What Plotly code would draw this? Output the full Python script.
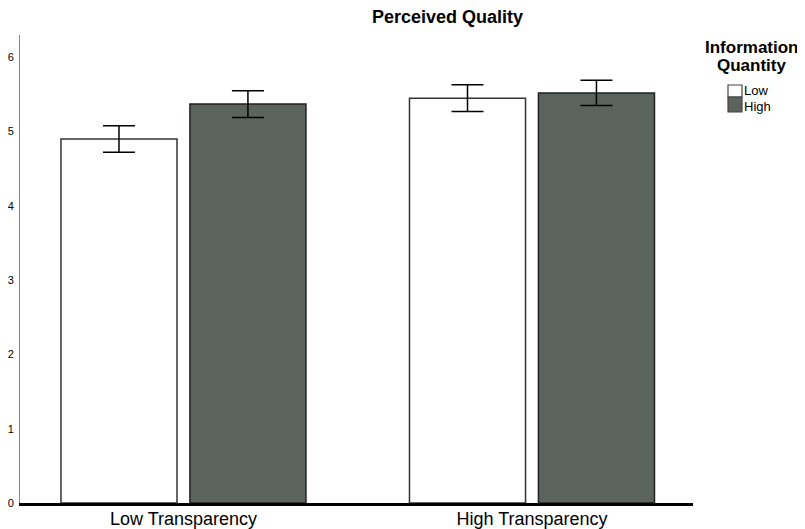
import plotly.graph_objects as go

categories = ["Low Transparency", "High Transparency"]
series_names = ["Low", "High"]
low_values = [4.90, 5.45]
high_values = [5.37, 5.52]
low_err = [0.18, 0.18]
high_err = [0.18, 0.17]
y_ticks = [0, 1, 2, 3, 4, 5, 6]
bar_colors = ["white", "#5a635e"]

# the page body adds an 8px offset; the figure is sized so that it fills the window
OFF = 8
W, H = 805 - OFF, 529 - OFF
ML, MR, MT, MB = 20 - OFF, 112, 35 - OFF, 26
PW, PH = W - ML - MR, H - MT - MB


def px_x(x):
    return (x - OFF - ML) / PW


def px_y(y):
    return (H - MB - (y - OFF)) / PH


fig = go.Figure()
fig.add_trace(go.Bar(
    name=series_names[0], x=categories, y=low_values,
    marker=dict(color=bar_colors[0], line=dict(color="#333333", width=1.5)),
    error_y=dict(type="data", array=low_err, color="black", thickness=1.5, width=16),
))
fig.add_trace(go.Bar(
    name=series_names[1], x=categories, y=high_values,
    marker=dict(color=bar_colors[1], line=dict(color="#222222", width=1.5)),
    error_y=dict(type="data", array=high_err, color="black", thickness=1.5, width=16),
))

annotations = [
    dict(text="<b>Perceived Quality</b>", x=px_x(447), y=px_y(17), xref="paper", yref="paper",
         xanchor="center", yanchor="middle", showarrow=False, font=dict(size=18)),
    dict(text="<b>Information</b>", x=px_x(752), y=px_y(47), xref="paper", yref="paper",
         xanchor="center", yanchor="middle", showarrow=False, font=dict(size=17), borderpad=0),
    dict(text="<b>Quantity</b>", x=px_x(752), y=px_y(66), xref="paper", yref="paper",
         xanchor="center", yanchor="middle", showarrow=False, font=dict(size=17), borderpad=0),
]
shapes = []
legend_rows = [(85, 97), (97, 112)]
label_y = [90, 106]
for name, color, (y0, y1), ly in zip(series_names, bar_colors, legend_rows, label_y):
    shapes.append(dict(type="rect", xref="paper", yref="paper",
                       x0=px_x(728), x1=px_x(742), y0=px_y(y1), y1=px_y(y0),
                       fillcolor=color, line=dict(color="#444444", width=1.2)))
    annotations.append(dict(text=name, x=px_x(743), y=px_y(ly), xref="paper", yref="paper",
                            xanchor="left", yanchor="middle", showarrow=False, font=dict(size=13),
                            borderpad=0))

fig.update_layout(
    width=W, height=H,
    barmode="group", bargap=0.26, bargroupgap=0.1,
    paper_bgcolor="white", plot_bgcolor="white",
    margin=dict(l=ML, r=MR, t=MT, b=MB, autoexpand=False),
    font=dict(family="Liberation Sans, Arial, sans-serif", color="black"),
    showlegend=False,
    annotations=annotations,
    shapes=shapes,
)

fig.update_xaxes(
    range=[-0.469, 1.462], showline=True, linecolor="black", linewidth=3,
    ticks="", tickfont=dict(size=18), showgrid=False, zeroline=False, automargin=False,
    ticklabelstandoff=-3,
)
fig.update_yaxes(
    range=[0, 6.3], tickvals=y_ticks, showline=True, linecolor="#888888", linewidth=1,
    ticks="", tickfont=dict(size=11), showgrid=False, zeroline=False, automargin=False,
    ticklabelstandoff=3,
)

fig.write_html("out.html")
